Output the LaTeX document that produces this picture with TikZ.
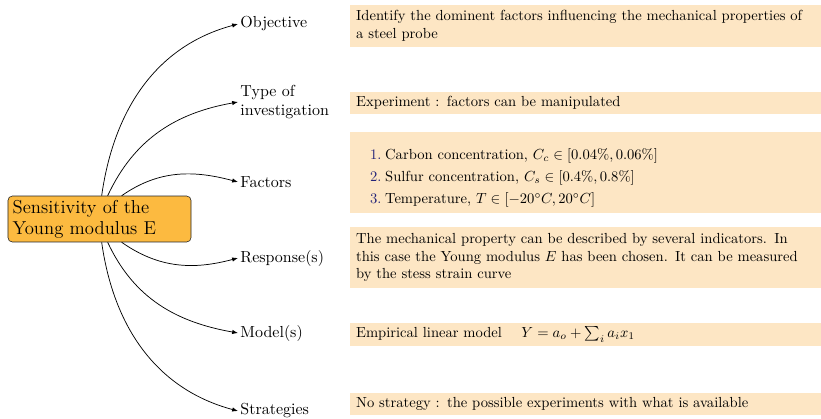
\documentclass[tikz,border=0pt]{standalone}
\usetikzlibrary{arrows.meta,calc}
\definecolor{rootfill}{RGB}{252,186,64}
\definecolor{boxfill}{RGB}{253,230,196}
\definecolor{enumblue}{RGB}{35,35,120}
\begin{document}
\begin{tikzpicture}[x=0.685pt,y=-0.685pt,
  rootbox/.style={draw=black!85, fill=rootfill, rounded corners=3pt,
    minimum width=125.4pt, minimum height=31.5pt, text width=119pt,
    inner xsep=3pt, inner ysep=1pt, align=left,
    font=\fontsize{12.8}{14.5}\selectfont},
  branch/.style={anchor=west, inner sep=1.5pt, align=left,
    font=\fontsize{10.95}{13.4}\selectfont},
  infobox/.style={anchor=west, fill=boxfill, text width=314.6pt,
    inner xsep=4pt, inner ysep=0pt, align=left},
  link/.style={-{Latex[length=4pt,width=3pt]}, line width=0.5pt}]
\useasboundingbox (0,0) rectangle (821,418);

\node[rootbox] (root) at (99.5,219) {Sensitivity of the\\Young modulus E};

\node[branch] (obj) at (238,24) {Objective};
\node[branch] (typ) at (238,102) {Type of\\investigation};
\node[branch] (fac) at (238,182) {Factors};
\node[branch] (res) at (238,258) {Response(s)};
\node[branch] (mod) at (238,333) {Model(s)};
\node[branch] (str) at (238,411) {Strategies};

\draw[link] ($(root.north west)+(94,0)$) to[out=82,in=195] (obj.west);
\draw[link] ($(root.north west)+(100,0)$) to[out=65,in=190] (typ.west);
\draw[link] ($(root.north west)+(114,0)$) to[out=35,in=165] (fac.west);
\draw[link] ($(root.south west)+(114,0)$) to[out=-35,in=195] (res.west);
\draw[link] ($(root.south west)+(100,0)$) to[out=-65,in=170] (mod.west);
\draw[link] ($(root.south west)+(94,0)$) to[out=-82,in=165] (str.west);

\node[infobox, minimum height=28.8pt] (bobj) at (350,26)
  {Identify the dominent factors influencing the mechanical properties of\\a steel probe};
\node[infobox, minimum height=15pt] (btyp) at (350,103)
  {Experiment : factors can be manipulated};
\node[infobox, minimum height=55.5pt] (bfac) at (350,172.5)
  {\rule{0pt}{15pt}\hspace*{9.6pt}\makebox[10.3pt][l]{\textcolor{enumblue}{1.}}Carbon concentration, $C_c\in[0.04\%,0.06\%]$\\[3pt]
   \hspace*{9.6pt}\makebox[10.3pt][l]{\textcolor{enumblue}{2.}}Sulfur concentration, $C_s\in[0.4\%,0.8\%]$\\[3pt]
   \hspace*{9.6pt}\makebox[10.3pt][l]{\textcolor{enumblue}{3.}}Temperature, $T\in[-20^\circ C,20^\circ C]$};
\node[infobox, minimum height=41.8pt] (bres) at (350,257.5)
  {The mechanical property can be described by several indicators. In\\this case the Young modulus $E$ has been chosen. It can be measured\\by the stess strain curve};
\node[infobox, minimum height=15.8pt] (bmod) at (350,334.5)
  {Empirical linear model \quad $Y = a_o + \sum_i a_i x_1$};
\node[infobox, minimum height=15pt] (bstr) at (350,404)
  {No strategy : the possible experiments with what is available};
\end{tikzpicture}
\end{document}
